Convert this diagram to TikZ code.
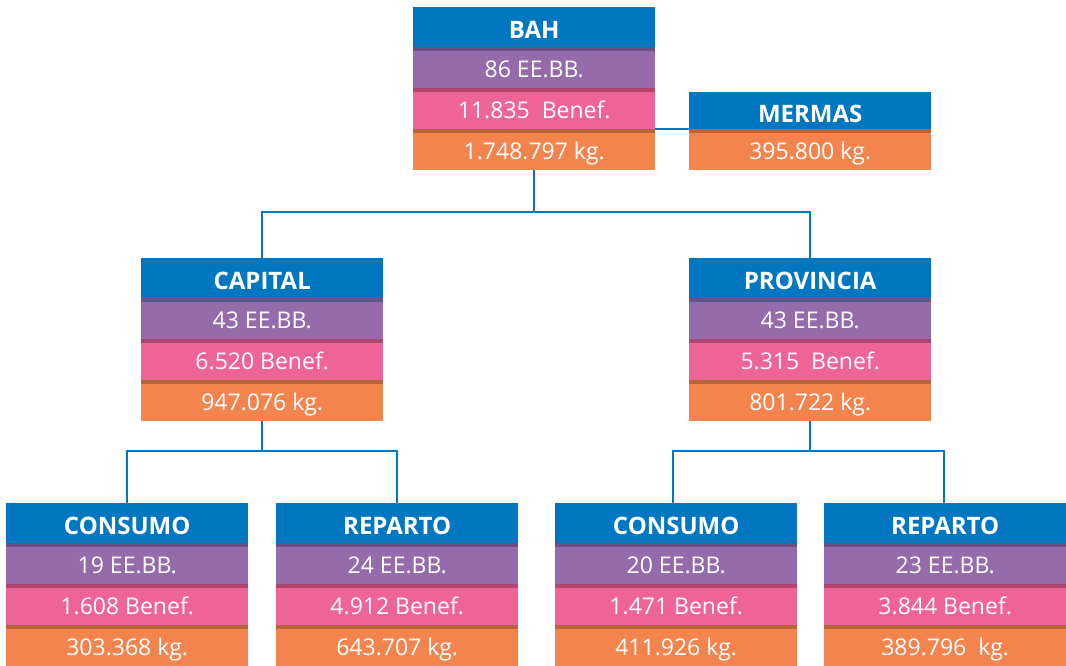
\documentclass[tikz,border=0pt]{standalone}
\usepackage{fontspec}
\setmainfont{Open Sans}
\definecolor{cblue}{HTML}{0077C0}
\definecolor{cpurple}{HTML}{956BAB}
\definecolor{cpink}{HTML}{EF6497}
\definecolor{corange}{HTML}{F3844E}
\definecolor{dpurple}{HTML}{6B4F85}
\definecolor{dpink}{HTML}{B0456F}
\definecolor{dorange}{HTML}{B8643A}
\tikzset{
  band/.style={rectangle, minimum width=242pt, inner sep=0pt, anchor=north west, text=white, font=\fontsize{23}{26}\selectfont},
  headband/.style={band, fill=cblue, minimum height=40pt, font=\fontsize{24}{26}\selectfont\bfseries},
  stripe/.style={path picture={\fill[#1] (path picture bounding box.north west) rectangle ([yshift=-4pt]path picture bounding box.north east);}},
  pband/.style={band, fill=cpurple, minimum height=41pt, stripe=dpurple},
  kband/.style={band, fill=cpink, minimum height=41pt, stripe=dpink},
  oband/.style={band, fill=corange, minimum height=41pt, stripe=dorange},
  conn/.style={draw=cblue, line width=2pt},
}
\newcommand\lowtxt[2]{\raisebox{-#1}[0pt][0pt]{#2}}
\newcommand\orgblock[7]{%
  \node[headband] (#1-h) at (#2,#3) {\lowtxt{11.5pt}{#4}};
  \node[pband] (#1-p) at (#2,#3+40) {\lowtxt{10pt}{#5}};
  \node[kband] (#1-k) at (#2,#3+81) {\lowtxt{10pt}{#6}};
  \node[oband] (#1-o) at (#2,#3+122) {\lowtxt{10pt}{#7}};
}
\begin{document}
\begin{tikzpicture}[x=1pt,y=-1pt]
\useasboundingbox (0,0) rectangle (1066,665);
\orgblock{bah}{413}{7}{BAH}{86 EE.BB.}{11.835\ \ Benef.}{1.748.797 kg.}
\node[headband, minimum height=37pt] (mer-h) at (689,92) {\lowtxt{12pt}{MERMAS}};
\node[oband] (mer-o) at (689,129) {\lowtxt{10pt}{395.800 kg.}};
\orgblock{cap}{141}{258}{CAPITAL}{43 EE.BB.}{6.520 Benef.}{947.076 kg.}
\orgblock{prov}{689}{258}{PROVINCIA}{43 EE.BB.}{5.315\ \ Benef.}{801.722 kg.}
\orgblock{cc}{6}{503}{CONSUMO}{19 EE.BB.}{1.608 Benef.}{303.368 kg.}
\orgblock{cr}{276}{503}{REPARTO}{24 EE.BB.}{4.912 Benef.}{643.707 kg.}
\orgblock{pc}{555}{503}{CONSUMO}{20 EE.BB.}{1.471 Benef.}{411.926 kg.}
\orgblock{pr}{824}{503}{REPARTO}{23 EE.BB.}{3.844 Benef.}{389.796\ \ kg.}
\draw[conn] (bah-o.north east) -- (mer-o.north west);
\draw[conn] (bah-o.south) -- ++(0,42) coordinate (j1) -| (cap-h.north);
\draw[conn] (j1) -| (prov-h.north);
\draw[conn] (cap-o.south) -- ++(0,30) coordinate (j2) -| (cc-h.north);
\draw[conn] (j2) -| (cr-h.north);
\draw[conn] (prov-o.south) -- ++(0,30) coordinate (j3) -| ([xshift=-3pt]pc-h.north);
\draw[conn] (j3) -| ([xshift=-1pt]pr-h.north);
\end{tikzpicture}
\end{document}
